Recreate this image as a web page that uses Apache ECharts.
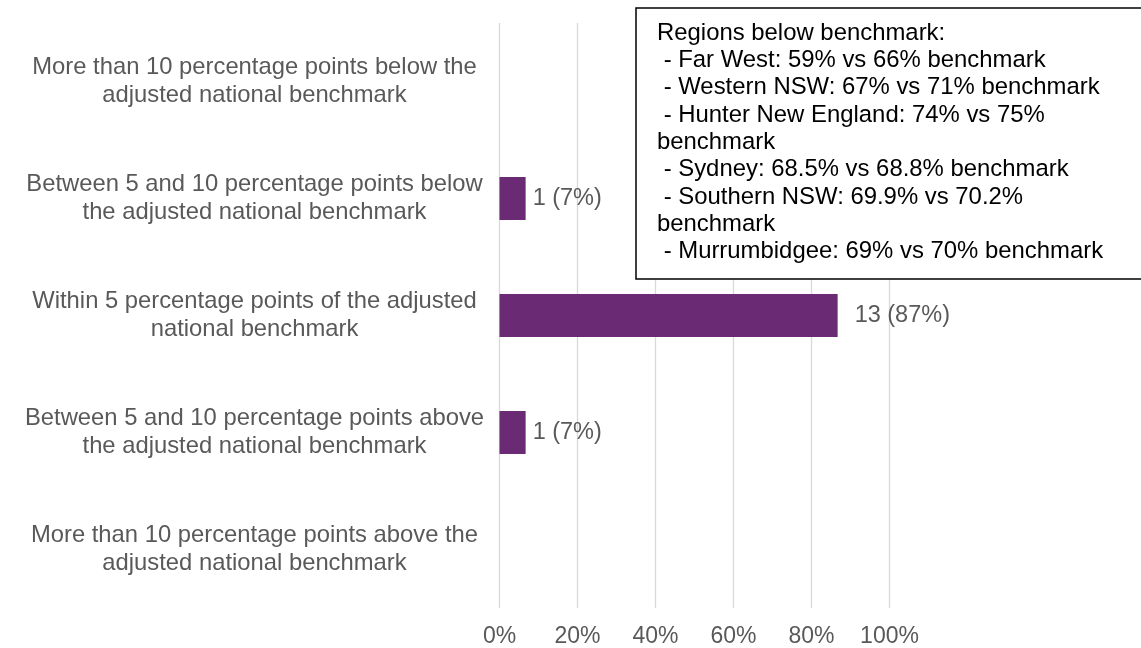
<!DOCTYPE html>
<html>
<head>
<meta charset="utf-8">
<script src="https://cdn.jsdelivr.net/npm/echarts@6/dist/echarts.min.js"></script>
<style>
html,body{margin:0;padding:0;background:#fff;}
#chart{width:1141px;height:648px;}
</style>
</head>
<body>
<div id="chart"></div>
<script>
const categories = [
  "More than 10 percentage points below the\nadjusted national benchmark",
  "Between 5 and 10 percentage points below\nthe adjusted national benchmark",
  "Within 5 percentage points of the adjusted\nnational benchmark",
  "Between 5 and 10 percentage points above\nthe adjusted national benchmark",
  "More than 10 percentage points above the\nadjusted national benchmark"
];
const counts = [0, 1, 13, 1, 0];
const percents = [0, 6.7, 86.7, 6.7, 0];
const labelTexts = ["", "1 (7%)", "13 (87%)", "1 (7%)", ""];
const xTicks = [0, 20, 40, 60, 80, 100];
const noteLines = [
  "Regions below benchmark:",
  " - Far West: 59% vs 66% benchmark",
  " - Western NSW: 67% vs 71% benchmark",
  " - Hunter New England: 74% vs 75%",
  "benchmark",
  " - Sydney: 68.5% vs 68.8% benchmark",
  " - Southern NSW: 69.9% vs 70.2%",
  "benchmark",
  " - Murrumbidgee: 69% vs 70% benchmark"
];

const FONT = "'Liberation Sans', Arial, sans-serif";
const chart = echarts.init(document.getElementById('chart'), null, {renderer: 'canvas'});

const barData = percents.map((v, i) => ({
  value: v,
  label: {
    show: counts[i] > 0,
    distance: counts[i] > 5 ? 17 : 7
  }
}));

chart.setOption({
  animation: false,
  backgroundColor: '#ffffff',
  grid: {left: 499.5, right: 251.5, top: 23, bottom: 40, containLabel: false},
  xAxis: {
    type: 'value',
    min: xTicks[0],
    max: xTicks[xTicks.length - 1],
    interval: xTicks[1] - xTicks[0],
    axisLine: {show: false},
    axisTick: {show: false},
    splitLine: {show: true, lineStyle: {color: '#d9d9d9', width: 1.3}},
    axisLabel: {
      color: '#595959', fontFamily: FONT, fontSize: 23, margin: 17,
      formatter: v => v + '%'
    }
  },
  yAxis: {
    type: 'category',
    inverse: true,
    data: categories,
    axisLine: {show: false},
    axisTick: {show: false},
    axisLabel: {
      color: '#595959', fontFamily: FONT, fontSize: 23.8, lineHeight: 28,
      align: 'center', margin: 245
    }
  },
  series: [{
    type: 'bar',
    data: barData,
    barWidth: 43,
    itemStyle: {color: '#6B2A74'},
    label: {
      show: true,
      position: 'right',
      color: '#595959',
      fontFamily: FONT,
      fontSize: 23.5,
      formatter: p => labelTexts[p.dataIndex]
    }
  }],
  graphic: [
    {
      type: 'rect',
      shape: {x: 636, y: 8, width: 520, height: 271},
      style: {fill: '#ffffff', stroke: '#000000', lineWidth: 1.5},
      z: 100
    },
    {
      type: 'text',
      x: 657, y: 19.5,
      style: {
        text: noteLines.join('\n'),
        fill: '#000000',
        font: '23.9px ' + FONT,
        lineHeight: 27.3
      },
      z: 101
    }
  ]
});
</script>
</body>
</html>
